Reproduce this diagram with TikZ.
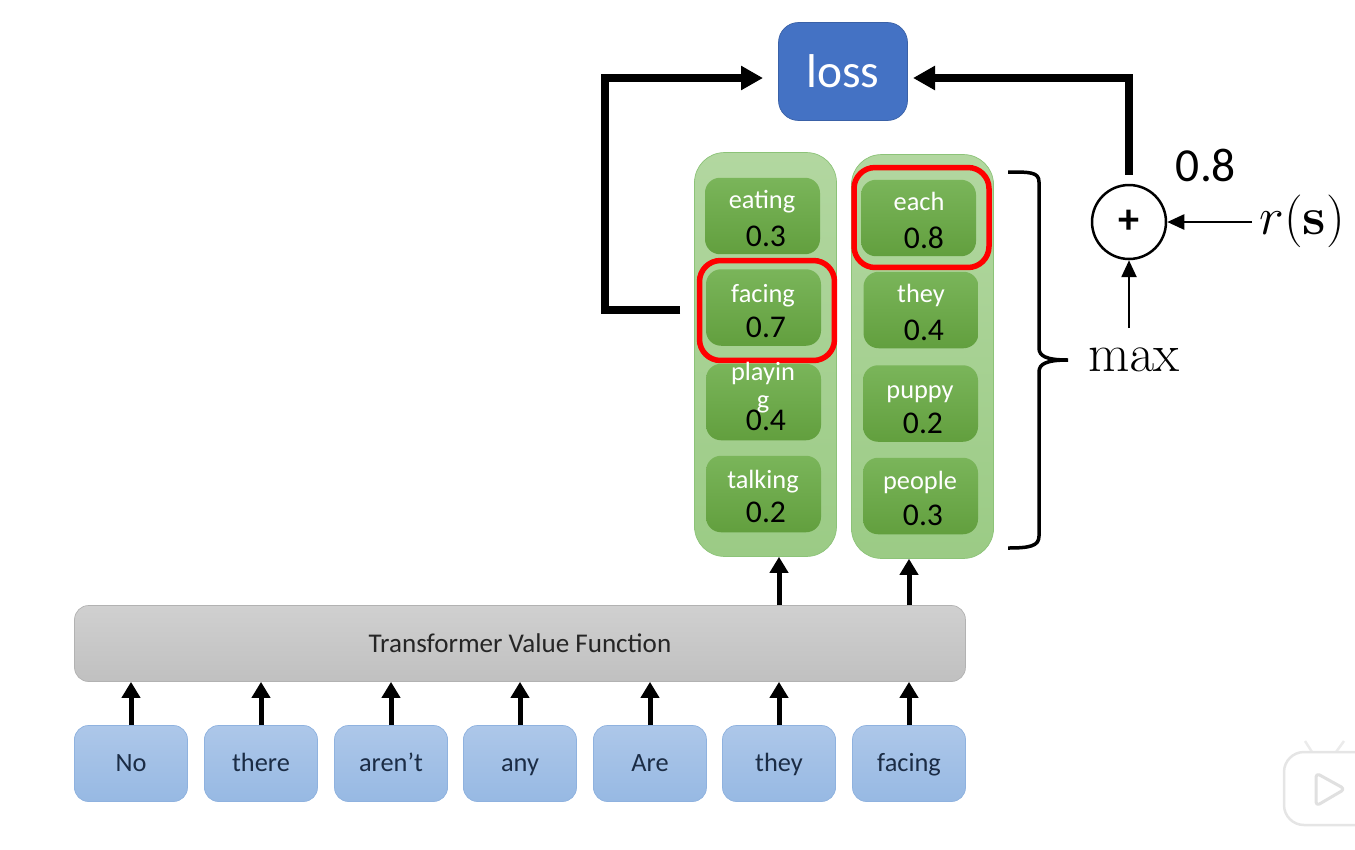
\documentclass[tikz,border=0pt]{standalone}
\usepackage{fix-cm}
\usepackage[no-math]{fontspec}
\setmainfont{Carlito}
\usetikzlibrary{arrows.meta}
\definecolor{wordtop}{HTML}{ADC7E9}
\definecolor{wordbot}{HTML}{97B9E3}
\definecolor{wordline}{HTML}{8FB2DF}
\definecolor{wordtext}{HTML}{1B2C45}
\definecolor{valuetop}{HTML}{D0D0D0}
\definecolor{valuebot}{HTML}{C0C0C0}
\definecolor{colAtop}{HTML}{B2D7A0}
\definecolor{colAbot}{HTML}{9BCB85}
\definecolor{colline}{HTML}{8CC378}
\definecolor{celltop}{HTML}{7AB55A}
\definecolor{cellbot}{HTML}{629F3E}
\definecolor{lossblue}{HTML}{4472C4}
\begin{document}
\begin{tikzpicture}[x=0.02cm,y=-0.02cm]%
	\tikzstyle{wordbox}=[rectangle, rounded corners=0.28cm, draw=wordline, top color=wordtop, bottom color=wordbot, minimum width=2.26cm, minimum height=1.52cm, text=wordtext, text height=11pt, text depth=2pt, font=\fontsize{15}{17}\selectfont];
	\tikzstyle{colbox}=[rectangle, rounded corners=0.6cm, draw=colline, top color=colAtop, bottom color=colAbot, minimum width=2.84cm, minimum height=8.08cm];
	\tikzstyle{cell}=[rectangle, rounded corners=0.3cm, top color=celltop, bottom color=cellbot, minimum width=2.3cm, minimum height=1.53cm];
	\tikzstyle{pick}=[rectangle, rounded corners=0.42cm, draw=red, line width=0.11cm, minimum width=2.7cm, minimum height=2cm];
	\tikzstyle{word}=[text=white, text height=11pt, text depth=3pt, font=\fontsize{15}{17}\selectfont, inner sep=0pt];
	\tikzstyle{score}=[text=black, font=\fontsize{18}{20}\selectfont, inner sep=0pt];
	\tikzstyle{upline}=[line width=0.1cm, -{Triangle[length=0.32cm, width=0.36cm]}];
	\tikzstyle{loopline}=[line width=0.15cm, -{Triangle[length=0.44cm, width=0.46cm]}];
	\tikzstyle{plusline}=[line width=0.05cm, -{Triangle[length=0.34cm, width=0.3cm]}];
	\useasboundingbox (0, 0) rectangle (1355, 849);
	\node[wordbox] (no) at (131, 763.5) {No};
	\node[wordbox] (there) at (261, 763.5) {there};
	\node[wordbox] (arent) at (391, 763.5) {aren’t};
	\node[wordbox] (any) at (520, 763.5) {any};
	\node[wordbox] (are) at (650, 763.5) {Are};
	\node[wordbox] (they) at (779, 763.5) {they};
	\node[wordbox] (facing) at (909, 763.5) {facing};
	\node[rectangle, rounded corners=0.28cm, draw=black!30, top color=valuetop, bottom color=valuebot, minimum width=17.82cm, minimum height=1.52cm, font=\fontsize{15.4}{17}\selectfont, text=black!85] (value) at (520, 643.5) {Transformer Value Function};
	\node[rectangle, rounded corners=0.4cm, draw=lossblue!85!black, fill=lossblue, minimum width=2.58cm, minimum height=1.96cm, text=white, font=\fontsize{27}{30}\selectfont] (loss) at (843, 71.5) {loss};
	\node[colbox] (colA) at (765.5, 354.5) {};
	\node[colbox] (colB) at (922.5, 356.5) {};
	\node[cell] (cellA1) at (762.5, 216) {};
	\node[cell] (cellA2) at (763.5, 307.5) {};
	\node[cell] (cellA3) at (763.5, 402) {};
	\node[cell] (cellA4) at (763.5, 494) {};
	\node[cell] (cellB1) at (918.5, 218) {};
	\node[cell] (cellB2) at (921, 310) {};
	\node[cell] (cellB3) at (920.5, 403.5) {};
	\node[cell] (cellB4) at (920.5, 496) {};
	\node[pick] (pickA) at (767, 310.5) {};
	\node[pick] (pickB) at (921.5, 217.5) {};
	\node[word] (wordA1) at (762, 201) {eating};
	\node[score] (scoreA1) at (766, 236) {0.3};
	\node[word] (wordA2) at (763, 295) {facing};
	\node[score] (scoreA2) at (766, 327) {0.7};
	\node[word] (wordA3) at (763, 373) {playin};
	\node[word] (wordA3b) at (763, 401) {g};
	\node[score] (scoreA3) at (766, 420) {0.4};
	\node[word] (wordA4) at (763, 481) {talking};
	\node[score] (scoreA4) at (766, 512) {0.2};
	\node[word] (wordB1) at (919, 203) {each};
	\node[score] (scoreB1) at (924, 238) {0.8};
	\node[word] (wordB2) at (921, 295) {they};
	\node[score] (scoreB2) at (924, 330) {0.4};
	\node[word] (wordB3) at (920, 391) {puppy};
	\node[score] (scoreB3) at (923, 423) {0.2};
	\node[word] (wordB4) at (920, 482) {people};
	\node[score] (scoreB4) at (923, 515) {0.3};
	\node[circle, draw=black, line width=0.05cm, fill=white, minimum size=1.48cm, inner sep=0pt, font=\fontsize{24}{26}\selectfont\bfseries] (plus) at (1129, 222) {+};
	\node[inner sep=0pt, font=\fontsize{27}{30}\selectfont] (total) at (1206, 165) {0.8};
	\node[inner sep=0pt, font=\fontsize{30}{32}\selectfont] (reward) at (1302, 221) {$r(\mathbf{s})$};
	\node[inner sep=0pt, font=\fontsize{30.5}{32}\selectfont] (maxlabel) at (1134, 360) {$\max$};
	\coordinate (facingout) at (680, 310);
	\coordinate (lossleft) at (605, 78);
	\coordinate (lossright) at (908, 78);
	\coordinate (lossin) at (778, 78);
	\coordinate (rewardout) at (1252, 222);
	\coordinate (maxout) at (1129, 328);
	\draw[upline] (no) -- (no |- value.south);
	\draw[upline] (there) -- (there |- value.south);
	\draw[upline] (arent) -- (arent |- value.south);
	\draw[upline] (any) -- (any |- value.south);
	\draw[upline] (are) -- (are |- value.south);
	\draw[upline] (they) -- (they |- value.south);
	\draw[upline] (facing) -- (facing |- value.south);
	\draw[upline] (they |- value.north) -- (they |- colA.south);
	\draw[upline] (facing |- value.north) -- (facing |- colB.south);
	\draw[loopline, shorten >=0.3cm] (facingout) -| (lossleft) -- (lossin);
	\draw[loopline, shorten <=0.18cm, shorten >=0.1cm] (plus.north) |- (lossright);
	\draw[plusline] (rewardout) -- (plus.east);
	\draw[plusline] (maxout) -- (plus.south);
	\draw[line width=0.07cm] (1008, 172) .. controls (1030, 172) and (1039, 172) .. (1039, 182) -- (1039, 348) .. controls (1039, 356) and (1046, 360) .. (1068, 360) .. controls (1046, 360) and (1039, 364) .. (1039, 372) -- (1039, 536) .. controls (1039, 546) and (1030, 548) .. (1008, 548);
	\draw[draw=black!8, fill=white, line width=0.05cm, line join=round] (1312, 752) -- (1305, 741) (1336, 752) -- (1344, 741);
	\draw[draw=black!10, fill=white, line width=0.05cm, rounded corners=0.4cm] (1284, 752) rectangle (1375, 825);
	\draw[draw=black!12, fill=white, line width=0.06cm, line join=round, rounded corners=0.08cm] (1316, 773) -- (1345, 789) -- (1316, 806) -- cycle;
\end{tikzpicture}
\end{document}
